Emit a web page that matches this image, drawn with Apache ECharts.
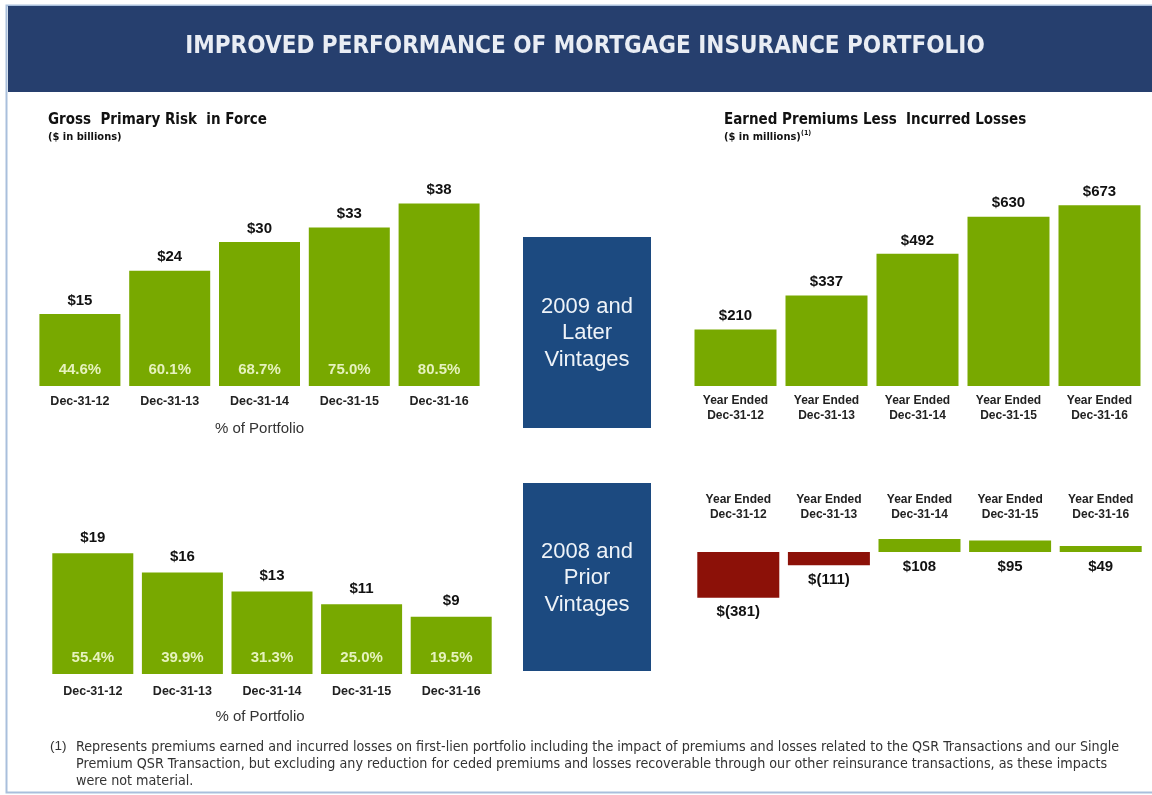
<!DOCTYPE html>
<html>
<head>
<meta charset="utf-8">
<script src="https://cdn.jsdelivr.net/npm/echarts@6/dist/echarts.min.js"></script>
<style>
  html, body { margin: 0; padding: 0; background: #fff; }
  #main { width: 1152px; height: 795px; }
</style>
</head>
<body>
<div id="main"></div>
<script>
// categories
const dates = ['Dec-31-12', 'Dec-31-13', 'Dec-31-14', 'Dec-31-15', 'Dec-31-16'];
const yearEnded = dates.map(d => 'Year Ended\n' + d);

// gross primary risk in force ($ billions) and share of portfolio (%)
const laterRisk = [15, 24, 30, 33, 38];
const laterShare = [44.6, 60.1, 68.7, 75.0, 80.5];
const priorRisk = [19, 16, 13, 11, 9];
const priorShare = [55.4, 39.9, 31.3, 25.0, 19.5];

// earned premiums less incurred losses ($ millions)
const laterEarned = [210, 337, 492, 630, 673];
const priorEarned = [-381, -111, 108, 95, 49];

const GREEN = '#78a900';
const RED = '#8c1108';
const FONT = '"Liberation Sans", Arial, sans-serif';
const NARROW = '"DejaVu Sans Condensed", "Liberation Sans", sans-serif';

const chart = echarts.init(document.getElementById('main'));

const money = v => v < 0 ? '$(' + Math.abs(v) + ')' : '$' + v;

const valueLabel = (dist, pos) => ({
  show: true,
  position: pos || 'top',
  distance: dist,
  fontFamily: FONT,
  fontWeight: 'bold',
  fontSize: 15,
  color: '#111',
  formatter: p => money(p.value)
});

const shareLabel = shares => ({
  show: true,
  position: 'insideBottom',
  distance: 9,
  fontFamily: FONT,
  fontWeight: 'bold',
  fontSize: 15,
  color: '#e6f2bd',
  formatter: p => shares[p.dataIndex].toFixed(1) + '%'
});

const catAxis = (gi, data, size, margin, extra) => Object.assign({
  type: 'category',
  gridIndex: gi,
  data: data,
  axisLine: { show: false },
  axisTick: { show: false },
  axisLabel: {
    margin: margin,
    fontFamily: FONT,
    fontWeight: 'bold',
    fontSize: size,
    lineHeight: 15,
    color: '#222'
  }
}, extra || {});

const valAxis = (gi, min, max) => ({
  type: 'value', gridIndex: gi, min: min, max: max, show: false,
  splitLine: { show: false }
});

const portfolioName = pad => ({
  name: '% of Portfolio',
  nameLocation: 'middle',
  nameGap: 35,
  nameTextStyle: { fontFamily: FONT, fontSize: 15, color: '#333', padding: pad }
});

const option = {
  animation: false,
  backgroundColor: '#ffffff',
  grid: [
    { left: 35, width: 449, top: 194, height: 192 },
    { left: 690, width: 455, top: 198, height: 188 },
    { left: 48, width: 448, top: 547, height: 127 },
    { left: 693, width: 453, top: 534, height: 66 }
  ],
  xAxis: [
    catAxis(0, dates, 12.5, 8, portfolioName([0, 0, 0, 0])),
    catAxis(1, yearEnded, 12, 7),
    catAxis(2, dates, 12.5, 10, portfolioName([0, 24, 0, 0])),
    catAxis(3, yearEnded, 12, 12, { position: 'top', axisLine: { show: false, onZero: true } })
  ],
  yAxis: [
    valAxis(0, 0, 40),
    valAxis(1, 0, 700),
    valAxis(2, 0, 20),
    valAxis(3, -400, 150)
  ],
  series: [
    {
      type: 'bar', xAxisIndex: 0, yAxisIndex: 0, barWidth: 81,
      itemStyle: { color: GREEN }, label: valueLabel(6), data: laterRisk
    },
    {
      type: 'bar', xAxisIndex: 0, yAxisIndex: 0, barWidth: 81, barGap: '-100%',
      itemStyle: { color: 'rgba(0,0,0,0)' }, label: shareLabel(laterShare), data: laterRisk
    },
    {
      type: 'bar', xAxisIndex: 1, yAxisIndex: 1, barWidth: 82,
      itemStyle: { color: GREEN }, label: valueLabel(6), data: laterEarned
    },
    {
      type: 'bar', xAxisIndex: 2, yAxisIndex: 2, barWidth: 81,
      itemStyle: { color: GREEN }, label: valueLabel(8), data: priorRisk
    },
    {
      type: 'bar', xAxisIndex: 2, yAxisIndex: 2, barWidth: 81, barGap: '-100%',
      itemStyle: { color: 'rgba(0,0,0,0)' }, label: shareLabel(priorShare), data: priorRisk
    },
    {
      type: 'bar', xAxisIndex: 3, yAxisIndex: 3, barWidth: 82,
      itemStyle: { color: p => p.value < 0 ? RED : GREEN },
      label: valueLabel(7, 'bottom'),
      data: priorEarned
    }
  ],
  graphic: [
    // frame + banner
    { type: 'rect', shape: { x: 6.5, y: 5.5, width: 1150, height: 787 }, style: { fill: 'none', stroke: '#a9bfdc', lineWidth: 2 }, z: 1 },
    { type: 'rect', shape: { x: 8, y: 6, width: 1144, height: 86 }, style: { fill: '#263f6e' }, z: 2 },
    {
      type: 'text', z: 3,
      style: { text: 'IMPROVED PERFORMANCE OF MORTGAGE INSURANCE PORTFOLIO', x: 585, y: 47,
        textAlign: 'center', textVerticalAlign: 'middle', fill: '#e9edf4',
        font: 'bold 24px ' + NARROW }
    },
    // section headers
    { type: 'text', style: { text: 'Gross  Primary Risk  in Force', x: 48, y: 120, textVerticalAlign: 'middle', fill: '#111', font: 'bold 15px ' + NARROW } },
    { type: 'text', style: { text: '($ in billions)', x: 48, y: 137, textVerticalAlign: 'middle', fill: '#111', font: 'bold 11px ' + NARROW } },
    { type: 'text', style: { text: 'Earned Premiums Less  Incurred Losses', x: 724, y: 120, textVerticalAlign: 'middle', fill: '#111', font: 'bold 15px ' + NARROW } },
    { type: 'text', style: { text: '($ in millions)', x: 724, y: 137, textVerticalAlign: 'middle', fill: '#111', font: 'bold 11px ' + NARROW } },
    { type: 'text', style: { text: '(1)', x: 801, y: 133, textVerticalAlign: 'middle', fill: '#111', font: 'bold 7px ' + NARROW } },
    // vintage boxes
    { type: 'rect', shape: { x: 523, y: 237, width: 128, height: 191 }, style: { fill: '#1c4a80' } },
    { type: 'text', style: { text: '2009 and\nLater\nVintages', x: 587, y: 333, textAlign: 'center', textVerticalAlign: 'middle', lineHeight: 26.5, fill: '#eef3f8', font: '22px ' + FONT } },
    { type: 'rect', shape: { x: 523, y: 483, width: 128, height: 188 }, style: { fill: '#1c4a80' } },
    { type: 'text', style: { text: '2008 and\nPrior\nVintages', x: 587, y: 578, textAlign: 'center', textVerticalAlign: 'middle', lineHeight: 26.5, fill: '#eef3f8', font: '22px ' + FONT } },
    // footnote
    { type: 'text', style: { text: '(1)', x: 50, y: 739, fill: '#333', font: '13.5px ' + FONT } },
    {
      type: 'text',
      style: {
        text: 'Represents premiums earned and incurred losses on first-lien portfolio including the impact of premiums and losses related to the QSR Transactions and our Single\n' +
              'Premium QSR Transaction, but excluding any reduction for ceded premiums and losses recoverable through our other reinsurance transactions, as these impacts\n' +
              'were not material.',
        x: 76, y: 739, lineHeight: 17, fill: '#333', font: '14.2px ' + NARROW
      }
    }
  ]
};

chart.setOption(option);
</script>
</body>
</html>
